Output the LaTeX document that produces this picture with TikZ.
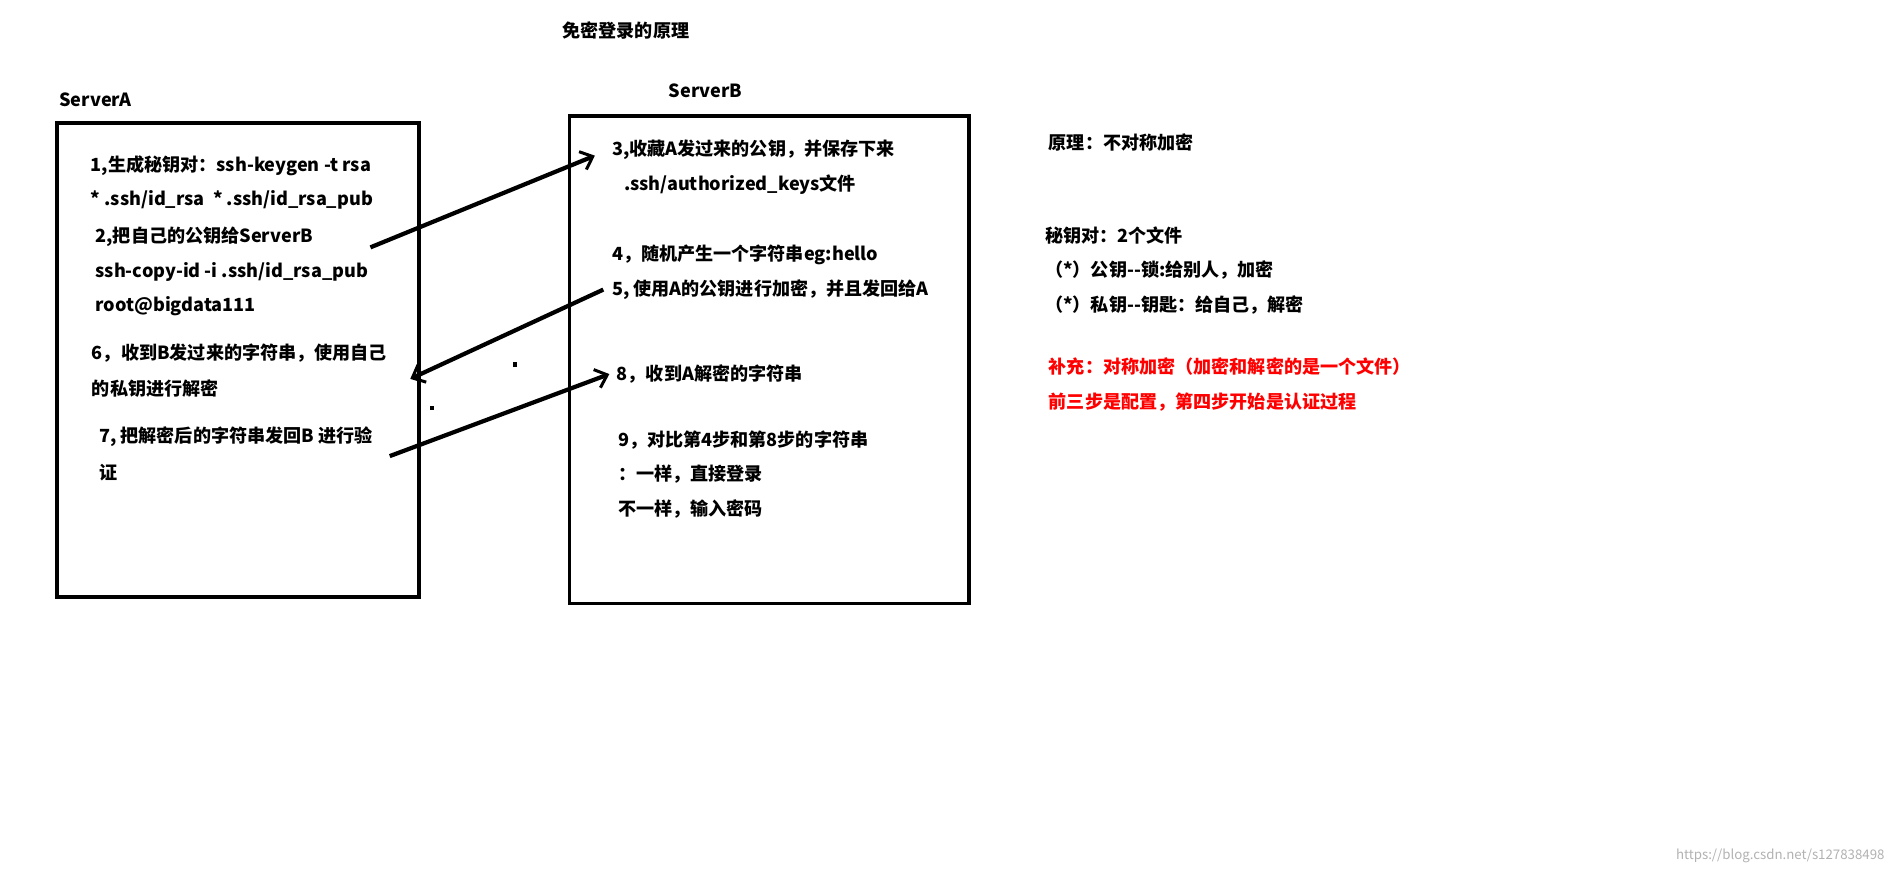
\documentclass[tikz,border=0pt]{standalone}
\usepackage{fontspec}
\setmainfont{Noto Sans CJK SC}
\usetikzlibrary{arrows.meta}
\begin{document}
\begin{tikzpicture}[x=1pt,y=-1pt,
  t/.style={anchor=west,inner sep=0pt,font=\fontsize{15}{17}\selectfont\bfseries},
  rt/.style={t,text=red},
  box/.style={draw,line width=3pt},
  arr/.style={line width=3.5pt,-{Straight Barb[length=9pt,width=16pt,line width=2.5pt]}},
  dot/.style={fill,inner sep=0pt,minimum size=3.5pt}]
\useasboundingbox[fill=white] (0,0) rectangle (1568,723);
\node[t] (title) at (466,25) {免密登录的原理};
\node[t] (la) at (49,83) {ServerA};
\node[t] (lb) at (554,75) {ServerB};
\draw[box] (47,102) rectangle (347,495);
\draw[box] (472,96) rectangle (803,500);
\node[t] (a1) at (75,137) {1,生成秘钥对：ssh-keygen -t rsa};
\node[t] (a2) at (75,166) {* .ssh/id\_rsa \ * .ssh/id\_rsa\_pub};
\node[t] (a3) at (79,196) {2,把自己的公钥给ServerB};
\node[t] (a4) at (79,225) {ssh-copy-id -i .ssh/id\_rsa\_pub};
\node[t] (a5) at (79,254) {root@bigdata111};
\node[t] (a6) at (76,293) {6，收到B发过来的字符串，使用自己};
\node[t] (a7) at (76,322) {的私钥进行解密};
\node[t] (a8) at (82,362) {7, 把解密后的字符串发回B 进行验};
\node[t] (a9) at (82,392) {证};
\node[t] (b1) at (507,124) {3,收藏A发过来的公钥，并保存下来};
\node[t] (b2) at (517,153) {.ssh/authorized\_keys文件};
\node[t] (b3) at (507,211) {4，随机产生一个字符串eg:hello};
\node[t] (b4) at (507,240) {5, 使用A的公钥进行加密，并且发回给A};
\node[t] (b5) at (511,310) {8，收到A解密的字符串};
\node[t] (b6) at (512,365) {9，对比第4步和第8步的字符串};
\node[t] (b7) at (512,393) {：一样，直接登录};
\node[t] (b8) at (512,422) {不一样，输入密码};
\node[t] (r1) at (869,118) {原理：不对称加密};
\node[t] (r2) at (866,195) {秘钥对：2个文件};
\node[t] (r3) at (866,224) {（*）公钥{-}{-}锁:给别人，加密};
\node[t] (r4) at (866,253) {（*）私钥{-}{-}钥匙：给自己，解密};
\node[rt] (r5) at (869,304) {补充：对称加密（加密和解密的是一个文件）};
\node[rt] (r6) at (869,333) {前三步是配置，第四步开始是认证过程};
\node[anchor=east,inner sep=0pt,text=gray!60,font=\fontsize{11}{12}\selectfont] (wm) at (1562,709) {https://blog.csdn.net/s127838498};
\coordinate (s1) at (307,205); \coordinate (e1) at (493,129);
\coordinate (s2) at (500,240); \coordinate (e2) at (340,314);
\coordinate (s3) at (323,378); \coordinate (e3) at (505,310);
\draw[arr] (s1) -- (e1);
\draw[arr] (s2) -- (e2);
\draw[arr] (s3) -- (e3);
\node[dot] (d1) at (427,302) {};
\node[dot] (d2) at (358,338) {};
\end{tikzpicture}
\end{document}
